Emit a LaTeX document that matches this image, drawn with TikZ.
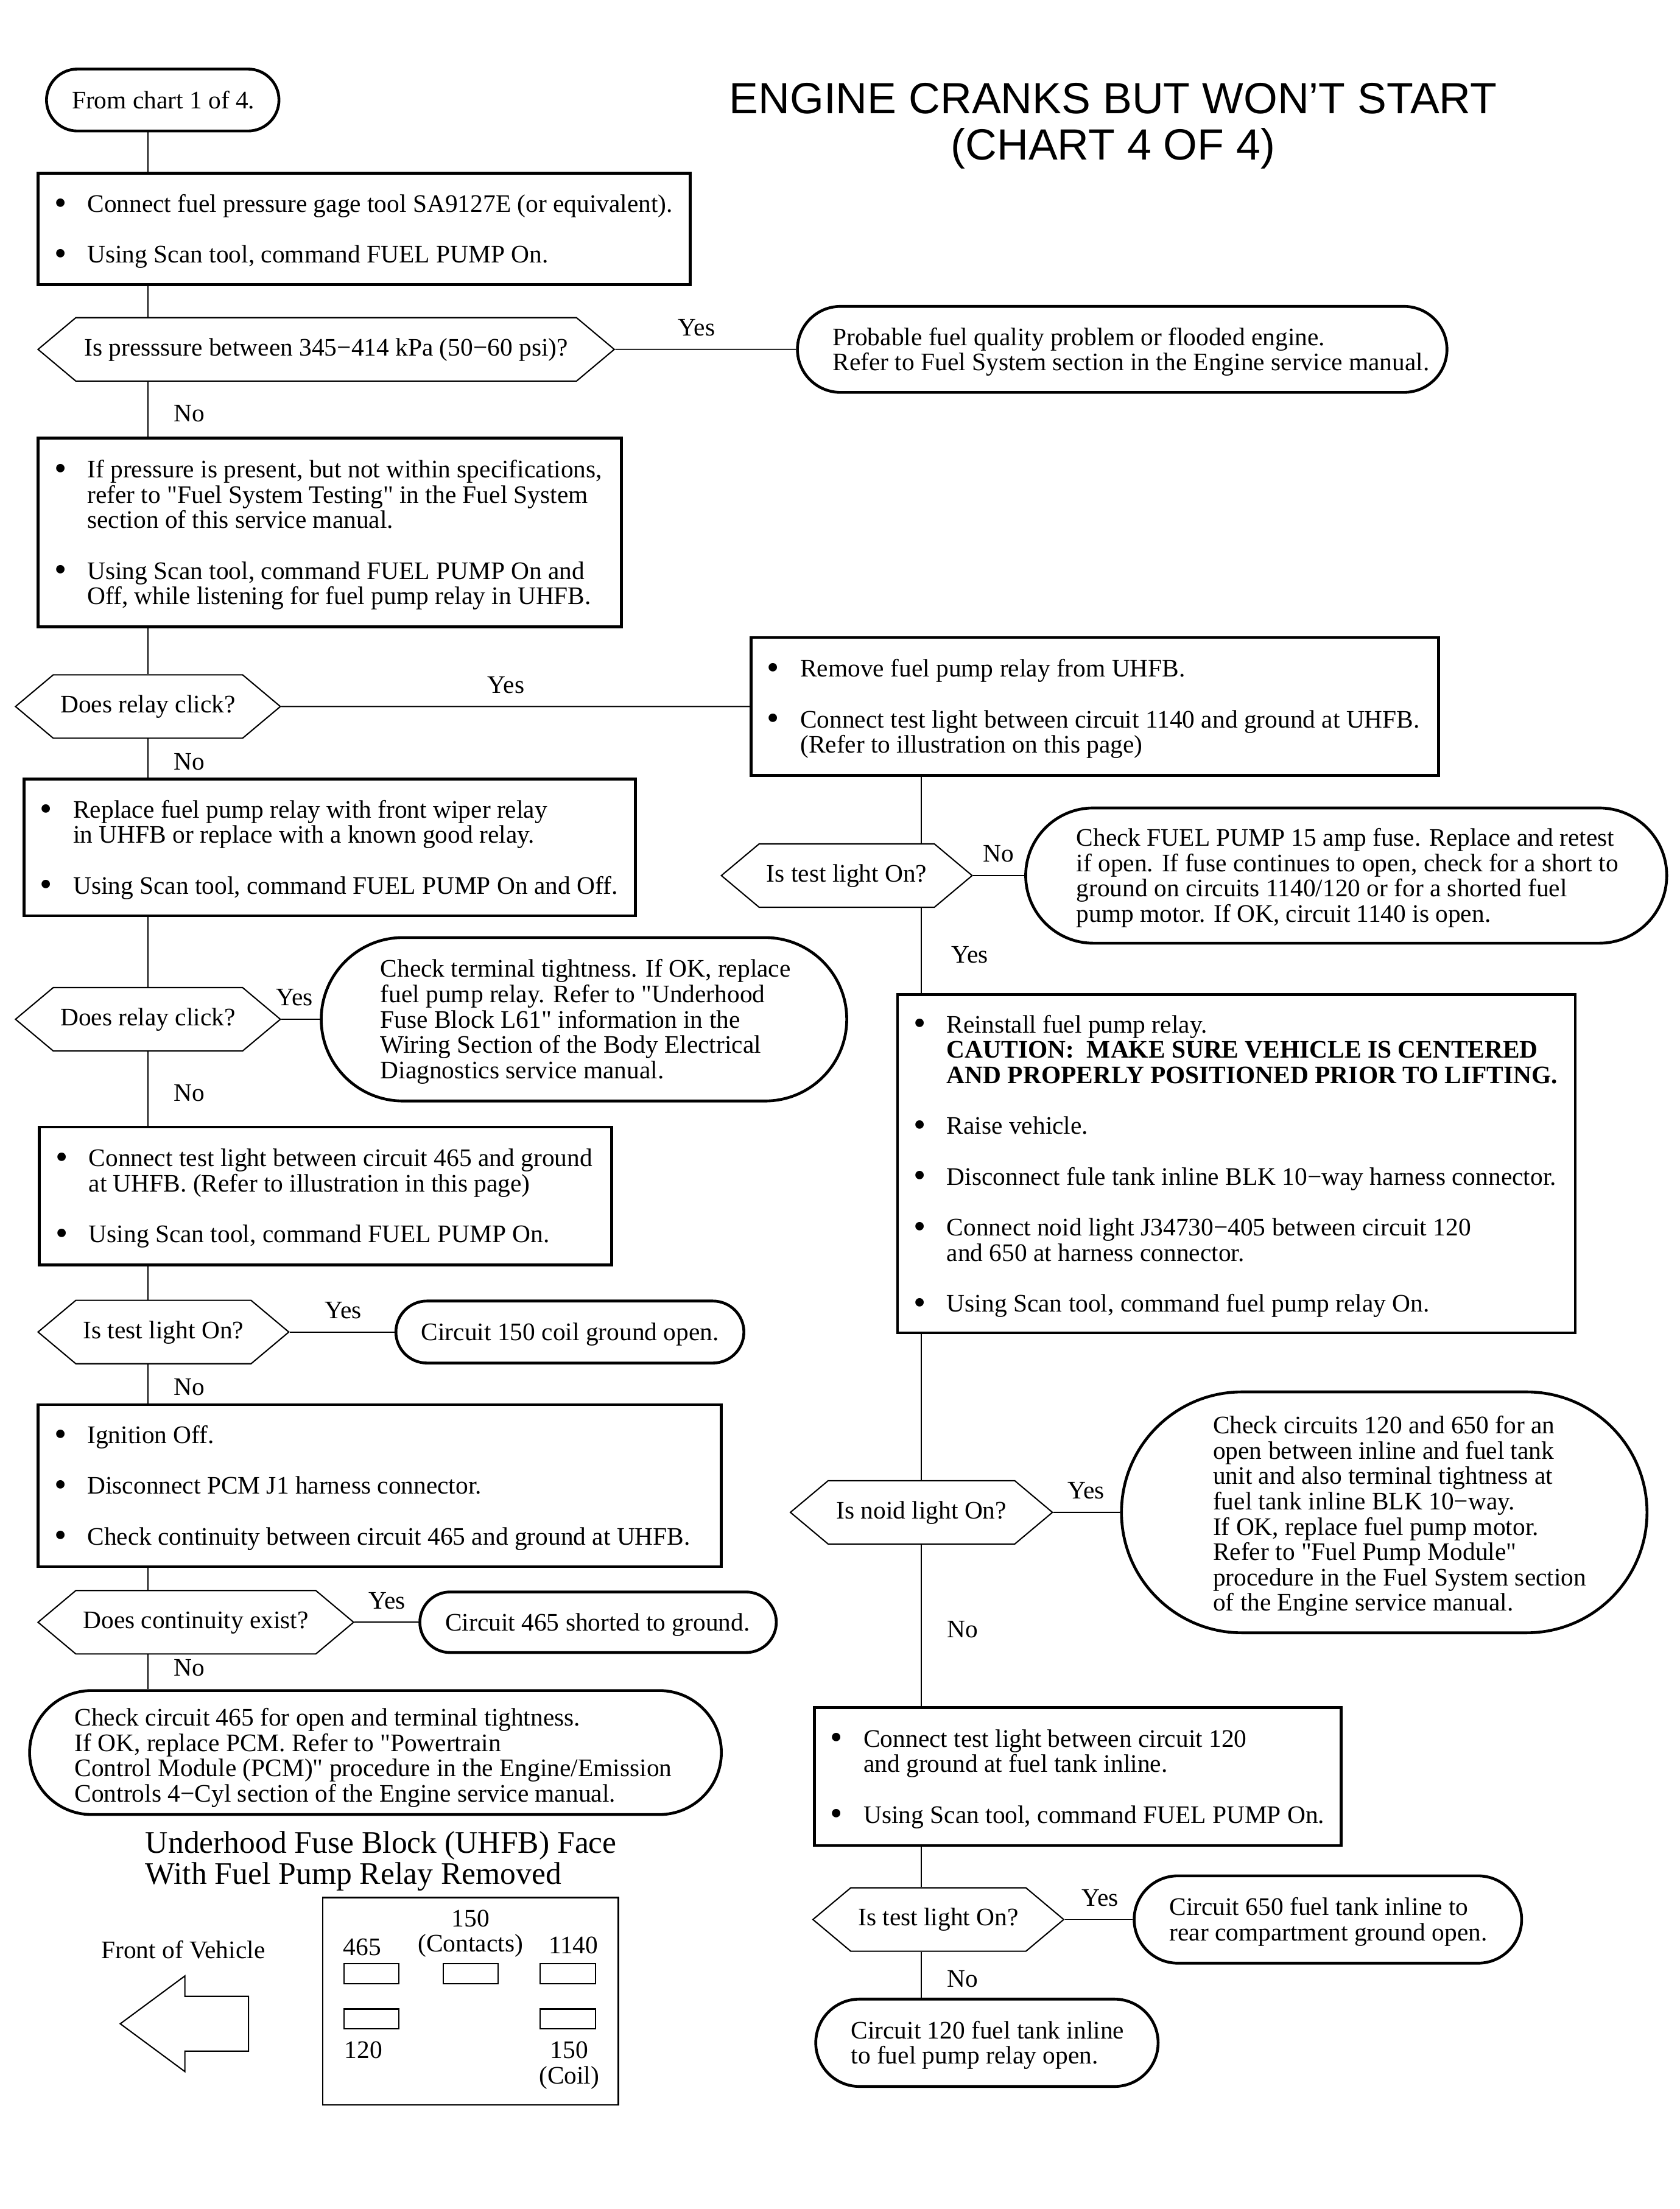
\documentclass[tikz,border=0pt]{standalone}
\usepackage{fontspec}
\setmainfont[Ligatures=TeXOff]{Liberation Serif}
\newfontfamily\headfont{Liberation Sans}
\usetikzlibrary{positioning, shapes.symbols, shapes.arrows}

\newcommand{\bl}{\makebox[11.75pt][l]{\raisebox{-.8pt}{\fontsize{12.5}{9}\selectfont\textbullet}}}
\newcommand{\hg}{\hspace*{11.75pt}}

\tikzset{
  action/.style 2 args={draw, line width=1pt, inner sep=0pt, align=flush left,
    minimum width=#1, minimum height=#2, text width=#1,
    execute at begin node={\leftskip=5.75pt\rule{0pt}{8pt}}},
  finding/.style n args={3}{draw, line width=1pt, inner sep=0pt, align=flush left,
    rounded corners=0.5*#2, minimum width=#1, minimum height=#2, text width=#1,
    execute at begin node={\leftskip=#3\rule{0pt}{8pt}}},
  check/.style={draw, line width=.45pt, inner sep=0pt, signal, signal to=west and east,
    signal pointer angle=80, minimum width=#1, minimum height=22.5pt,
    text height=6.3pt, text depth=1.8pt},
  answer/.style={inner xsep=9pt, inner ysep=4.5pt},
  contact/.style={draw, line width=.45pt, inner sep=0pt, minimum width=19.5pt, minimum height=7pt},
  pinlabel/.style={inner sep=0pt, align=center},
}

\begin{document}
\begin{tikzpicture}[node distance=2cm,on grid,auto,
    every node/.style={font=\fontsize{8.95}{9}\selectfont},
    every edge/.append style={line width=.4pt}]
  \useasboundingbox (0,0) rectangle (596pt,-784pt);

  % left column
  \node[finding={82.5pt}{22pt}{9pt}] (start) at (57.75pt,-35.5pt) {From chart 1 of 4.\rule[-2pt]{0pt}{2pt}};
  \node[align=center, inner sep=0pt, font=\headfont\fontsize{15.5}{16.5}\selectfont] (title)
    [below right=9.25pt and 337.25pt of start] {ENGINE CRANKS BUT WON’T START\\(CHART 4 OF 4)};
  \node[action={231.5pt}{39.5pt}] (gage) [below right=45.75pt and 71.5pt of start]
    {\bl Connect fuel pressure gage tool SA9127E (or equivalent).\\[9pt]
     \bl Using Scan tool, command FUEL PUMP On.};
  \node[check=204.5pt] (pressure) [below left=42.75pt and 13.5pt of gage]
    {Is presssure between 345−414 kPa (50−60 psi)?};
  \node[finding={230.5pt}{30.5pt}{12.5pt}] (quality) [right=282.5pt of pressure]
    {Probable fuel quality problem or flooded engine.\\
     Refer to Fuel System section in the Engine service manual.};
  \node[action={207pt}{67pt}] (listen) [below right=65pt and 1.25pt of pressure]
    {\bl If pressure is present, but not within specifications,\\
     \hg refer to "Fuel System Testing" in the Fuel System\\
     \hg section of this service manual.\\[9pt]
     \bl Using Scan tool, command FUEL PUMP On and\\
     \hg Off, while listening for fuel pump relay in UHFB.};
  \node[check=94pt] (click) [below left=61.75pt and 64.5pt of listen] {Does relay click?};
  \node[action={244pt}{49pt}] (remove) [right=336pt of click]
    {\bl Remove fuel pump relay from UHFB.\\[9pt]
     \bl Connect test light between circuit 1140 and ground at UHFB.\\
     \hg (Refer to illustration on this page)};
  \node[action={217pt}{48.5pt}] (replace) [below right=50pt and 64.5pt of click]
    {\bl Replace fuel pump relay with front wiper relay\\
     \hg in UHFB or replace with a known good relay.\\[9pt]
     \bl Using Scan tool, command FUEL PUMP On and Off.};
  \node[check=94pt] (click2) [below left=61pt and 64.5pt of replace] {Does relay click?};
  \node[finding={186.5pt}{58pt}{21pt}] (tight) [right=154.75pt of click2]
    {Check terminal tightness. If OK, replace\\
     fuel pump relay. Refer to "Underhood\\
     Fuse Block L61" information in the\\
     Wiring Section of the Body Electrical\\
     Diagnostics service manual.};
  \node[action={203pt}{49pt}] (light) [below right=62.75pt and 63pt of click2]
    {\bl Connect test light between circuit 465 and ground\\
     \hg at UHFB. (Refer to illustration in this page)\\[9pt]
     \bl Using Scan tool, command FUEL PUMP On.};
  \node[check=89pt] (lighton) [below left=48.25pt and 57.5pt of light] {Is test light On?};
  \node[finding={123.5pt}{22pt}{9pt}] (coil) [right=144.25pt of lighton] {Circuit 150 coil ground open.};
  \node[action={242.5pt}{57.5pt}] (ignition) [below right=54.5pt and 76.75pt of lighton]
    {\bl Ignition Off.\\[9pt]
     \bl Disconnect PCM J1 harness connector.\\[9pt]
     \bl Check continuity between circuit 465 and ground at UHFB.};
  \node[check=112pt] (continuity) [below left=48.5pt and 65.25pt of ignition] {Does continuity exist?};
  \node[finding={126.5pt}{21.5pt}{9pt}] (shorted) [right=142.75pt of continuity] {Circuit 465 shorted to ground.};
  \node[finding={245.5pt}{44pt}{16pt}] (open465) [below right=46.25pt and 63.75pt of continuity]
    {\rule{0pt}{10pt}Check circuit 465 for open and terminal tightness.\\
     If OK, replace PCM. Refer to "Powertrain\\
     Control Module (PCM)" procedure in the Engine/Emission\\
     Controls 4−Cyl section of the Engine service manual.};

  % fuse block
  \node[align=left, inner sep=0pt, font=\fontsize{11.15}{11}\selectfont] (face)
    [below right=38.5pt and 2pt of open465] {Underhood Fuse Block (UHFB) Face\\With Fuel Pump Relay Removed};
  \node[inner sep=0pt] (front) [below left=31.5pt and 70.25pt of face] {Front of Vehicle};
  \node[draw, line width=.45pt, inner sep=9.5pt, single arrow, shape border rotate=180,
    single arrow head extend=7.25pt, single arrow tip angle=73,
    minimum height=45.5pt, minimum width=33.5pt] (frontarrow) [below right=26.25pt and 7pt of front] {};
  \node[draw, line width=.55pt, inner sep=0pt, minimum width=105pt, minimum height=73.5pt] (block)
    [below right=18.25pt and 102pt of front] {};
  \node[contact] (c465) [above left=9.75pt and 35.25pt of block] {};
  \node[contact] (ccontacts) [above=9.75pt of block] {};
  \node[contact] (c1140) [above right=9.75pt and 34.5pt of block] {};
  \node[contact] (c120) [below=16pt of c465] {};
  \node[contact] (ccoil) [below=16pt of c1140] {};
  \node[pinlabel] (l465) [above left=9.5pt and 3.25pt of c465] {465};
  \node[pinlabel] (lcontacts) [above=14.25pt of ccontacts] {150\\(Contacts)};
  \node[pinlabel] (l1140) [above right=10pt and 2pt of c1140] {1140};
  \node[pinlabel] (l120) [below left=11pt and 2.75pt of c120] {120};
  \node[pinlabel] (lcoil) [below right=16.5pt and .5pt of ccoil] {150\\(Coil)};

  % right column
  \node[check=89pt] (lighton2) [below left=60pt and 88pt of remove] {Is test light On?};
  \node[finding={227.5pt}{48pt}{18pt}] (fuse) [right=177.25pt of lighton2]
    {Check FUEL PUMP 15 amp fuse. Replace and retest\\
     if open. If fuse continues to open, check for a short to\\
     ground on circuits 1140/120 or for a shorted fuel\\
     pump motor. If OK, circuit 1140 is open.};
  \node[action={240.5pt}{120pt}] (reinstall) [below right=102.25pt and 138.25pt of lighton2]
    {\bl Reinstall fuel pump relay.\\
     \hg\textbf{CAUTION:\ \ MAKE SURE VEHICLE IS CENTERED}\\
     \hg\textbf{AND PROPERLY POSITIONED PRIOR TO LIFTING.}\\[9pt]
     \bl Raise vehicle.\\[9pt]
     \bl Disconnect fule tank inline BLK 10−way harness connector.\\[9pt]
     \bl Connect noid light J34730−405 between circuit 120\\
     \hg and 650 at harness connector.\\[9pt]
     \bl Using Scan tool, command fuel pump relay On.};
  \node[check=93pt] (noid) [below left=123.75pt and 111.75pt of reinstall] {Is noid light On?};
  \node[finding={186.5pt}{85.5pt}{32.5pt}] (motor) [right=164.25pt of noid]
    {\rule{0pt}{9pt}Check circuits 120 and 650 for an\\
     open between inline and fuel tank\\
     unit and also terminal tightness at\\
     fuel tank inline BLK 10−way.\\
     If OK, replace fuel pump motor.\\
     Refer to "Fuel Pump Module"\\
     procedure in the Fuel System section\\
     of the Engine service manual.};
  \node[action={187pt}{49pt}] (inline) [below right=93.75pt and 55.5pt of noid]
    {\bl Connect test light between circuit 120\\
     \hg and ground at fuel tank inline.\\[9pt]
     \bl Using Scan tool, command FUEL PUMP On.};
  \node[check=89pt] (lighton3) [below left=50.75pt and 49.5pt of inline] {Is test light On?};
  \node[finding={137.5pt}{31pt}{12.5pt}] (rear) [right=138.25pt of lighton3]
    {Circuit 650 fuel tank inline to\\rear compartment ground open.};
  \node[finding={121.5pt}{31pt}{12.5pt}] (relayopen) [below right=43.75pt and 17.25pt of lighton3]
    {Circuit 120 fuel tank inline\\to fuel pump relay open.};

  \path
    (start.south -| click) edge (gage.north -| click)
    (gage.south -| click) edge (pressure.north -| click)
    (pressure.south -| click) edge node [answer, pos=.58] {No} (listen.north -| click)
    (pressure) edge node [answer, pos=.45] {Yes} (quality)
    (listen.south -| click) edge (click.north)
    (click.south) edge node [answer, pos=.59] {No} (replace.north -| click)
    (click) edge node [answer, pos=.48] {Yes} (remove)
    (replace.south -| click) edge (click2.north)
    (click2.south) edge node [answer, pos=.56] {No} (light.north -| click)
    (click2) edge node [answer, pos=.34] {Yes} (tight)
    (light.south -| click) edge (lighton.north -| click)
    (lighton.south -| click) edge node [answer, pos=.59] {No} (ignition.north -| click)
    (lighton) edge node [answer, pos=.51] {Yes} (coil)
    (ignition.south -| click) edge (continuity.north -| click)
    (continuity.south -| click) edge node [answer, pos=.38] {No} (open465.north -| click)
    (continuity) edge node [answer, pos=.51] {Yes} (shorted)
    (remove.south -| noid) edge (lighton2.north -| noid)
    (lighton2.south -| noid) edge node [answer, pos=.55, xshift=1.5pt] {Yes} (reinstall.north -| noid)
    (lighton2) edge node [answer, pos=.5] {No} (fuse)
    (reinstall.south -| noid) edge (noid.north)
    (noid.south) edge node [answer, pos=.526] {No} (inline.north -| noid)
    (noid) edge node [answer, pos=.49] {Yes} (motor)
    (inline.south -| noid) edge (lighton3.north -| noid)
    (lighton3.south -| noid) edge node [answer, pos=.59] {No} (relayopen.north -| noid)
    (lighton3) edge node [answer, pos=.52] {Yes} (rear);
\end{tikzpicture}
\end{document}
